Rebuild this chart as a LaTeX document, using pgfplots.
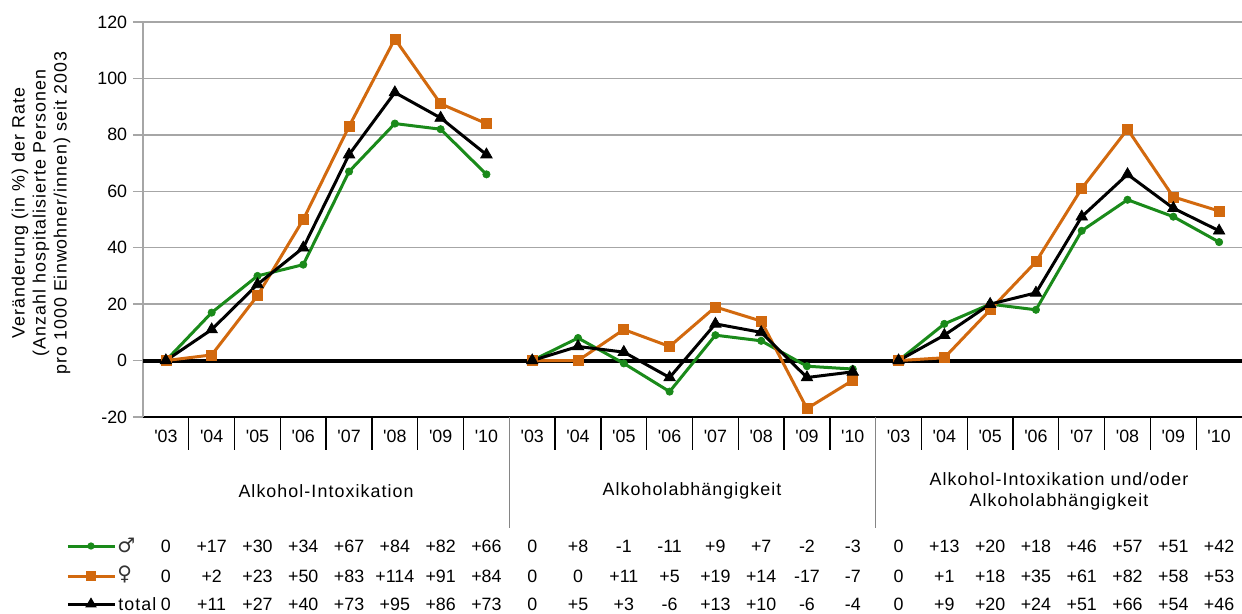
\documentclass[border=0pt]{standalone}
\usepackage{pgfplots}
\pgfplotsset{compat=1.18}
\usepackage{fontspec}
\setmainfont{Liberation Sans}
\newfontfamily\spaced[LetterSpace=6]{Liberation Sans}
\newfontfamily\symb{DejaVu Sans}
\definecolor{mgreen}{HTML}{1A8A1A}
\definecolor{forange}{HTML}{D2690E}
\definecolor{gridgray}{HTML}{A6A6A6}
\newcommand{\q}{\textquotesingle}

\begin{document}
\begin{tikzpicture}[font=\fontsize{10.7}{12.6}\selectfont]
\useasboundingbox (-85.8pt,-117.6pt) rectangle (659.4pt,250.2pt);
\begin{axis}[
  at={(0,0)}, anchor=south west,
  scale only axis, width=659.4pt, height=237pt,
  xmin=-0.5, xmax=23.5, ymin=-20, ymax=120,
  ytick={-20,0,...,120},
  xtick={0,...,23},
  xticklabels={\q03,\q04,\q05,\q06,\q07,\q08,\q09,\q10,
               \q03,\q04,\q05,\q06,\q07,\q08,\q09,\q10,
               \q03,\q04,\q05,\q06,\q07,\q08,\q09,\q10},
  xticklabel style={yshift=2pt},
  axis x line*=bottom, axis y line*=left,
  x axis line style={-, black, line width=1.2pt},
  y axis line style={-, gridgray, line width=0.9pt},
  xtick style={draw=none},
  ytick style={gridgray, line width=0.9pt},
  tick align=outside, major tick length=6pt,
  ymajorgrids, grid style={gridgray, line width=0.8pt},
  extra y ticks={0}, extra y tick labels={},
  extra y tick style={grid style={black, line width=2.4pt}, tick style={black, line width=2.4pt}},
  /pgf/number format/assume math mode=true,
  every axis plot/.append style={line width=1.8pt, mark options={line width=0.4pt}},
  clip=false,
]
% Alkohol-Intoxikation
\addplot[mgreen, mark=*, mark size=2.2pt] coordinates {(0,0) (1,17) (2,30) (3,34) (4,67) (5,84) (6,82) (7,66)};
\addplot[forange, mark=square*, mark size=3pt] coordinates {(0,0) (1,2) (2,23) (3,50) (4,83) (5,114) (6,91) (7,84)};
\addplot[black, mark=triangle*, mark size=4pt] coordinates {(0,0) (1,11) (2,27) (3,40) (4,73) (5,95) (6,86) (7,73)};
% Alkoholabhaengigkeit
\addplot[mgreen, mark=*, mark size=2.2pt] coordinates {(8,0) (9,8) (10,-1) (11,-11) (12,9) (13,7) (14,-2) (15,-3)};
\addplot[forange, mark=square*, mark size=3pt] coordinates {(8,0) (9,0) (10,11) (11,5) (12,19) (13,14) (14,-17) (15,-7)};
\addplot[black, mark=triangle*, mark size=4pt] coordinates {(8,0) (9,5) (10,3) (11,-6) (12,13) (13,10) (14,-6) (15,-4)};
% beides
\addplot[mgreen, mark=*, mark size=2.2pt] coordinates {(16,0) (17,13) (18,20) (19,18) (20,46) (21,57) (22,51) (23,42)};
\addplot[forange, mark=square*, mark size=3pt] coordinates {(16,0) (17,1) (18,18) (19,35) (20,61) (21,82) (22,58) (23,53)};
\addplot[black, mark=triangle*, mark size=4pt] coordinates {(16,0) (17,9) (18,20) (19,24) (20,51) (21,66) (22,54) (23,46)};
\end{axis}

\begin{scope}[x=0.6pt, y=-0.6pt, shift={(-143,-417)}]
  % category separators
  \foreach \i in {1,...,7,9,10,...,15,17,18,...,23}
    \draw[black, line width=0.8pt] (143+45.79*\i,417) -- (143+45.79*\i,450);
  \foreach \i in {8,16}
    \draw[gridgray!80!black, line width=0.8pt] (143+45.79*\i,417) -- (143+45.79*\i,528);
  % y label
  \node[rotate=90, align=center, font=\spaced\fontsize{10.7}{12.6}\selectfont] at (41,213)
    {Veränderung (in \%) der Rate\\(Anzahl hospitalisierte Personen\\pro 1000 Einwohner/innen) seit 2003};
  % group labels
  \begin{scope}[every node/.style={font=\spaced\fontsize{10.7}{12.6}\selectfont}]
  \node at (326,491) {Alkohol-Intoxikation};
  \node at (692,491) {Alkoholabhängigkeit};
  \node[align=center] at (1059,491) {Alkohol-Intoxikation und/oder\\Alkoholabhängigkeit};
  \end{scope}
  % table
  \foreach \v [count=\i from 0] in {0,+17,+30,+34,+67,+84,+82,+66,0,+8,-1,-11,+9,+7,-2,-3,0,+13,+20,+18,+46,+57,+51,+42}
    \node[anchor=base] at (165.9+45.79*\i,552) {\v};
  \foreach \v [count=\i from 0] in {0,+2,+23,+50,+83,+114,+91,+84,0,0,+11,+5,+19,+14,-17,-7,0,+1,+18,+35,+61,+82,+58,+53}
    \node[anchor=base] at (165.9+45.79*\i,582) {\v};
  \foreach \v [count=\i from 0] in {0,+11,+27,+40,+73,+95,+86,+73,0,+5,+3,-6,+13,+10,-6,-4,0,+9,+20,+24,+51,+66,+54,+46}
    \node[anchor=base] at (165.9+45.79*\i,610) {\v};
  % legend
  \draw[mgreen, line width=1.8pt] (68,546) -- (115,546);
  \fill[mgreen] (91,546) circle[radius=2.2pt];
  \node[anchor=base west, inner sep=0pt, font=\symb\fontsize{12}{12}\selectfont, gray!40!black] at (117,552) {♂};
  \draw[forange, line width=1.8pt] (68,576) -- (115,576);
  \fill[forange] (91,576) ++(-3pt,-3pt) rectangle ++(6pt,6pt);
  \node[anchor=base west, inner sep=0pt, font=\symb\fontsize{12}{12}\selectfont, gray!40!black] at (117,580) {♀};
  \draw[black, line width=1.8pt] (68,604) -- (115,604);
  \fill[black] (91,604) ++(0,4pt) -- ++(-3.46pt,-6pt) -- ++(6.92pt,0) -- cycle;
  \node[anchor=base west, inner sep=0pt, font=\spaced\fontsize{10.7}{12.6}\selectfont] at (118,610) {total};
\end{scope}
\end{tikzpicture}
\end{document}
